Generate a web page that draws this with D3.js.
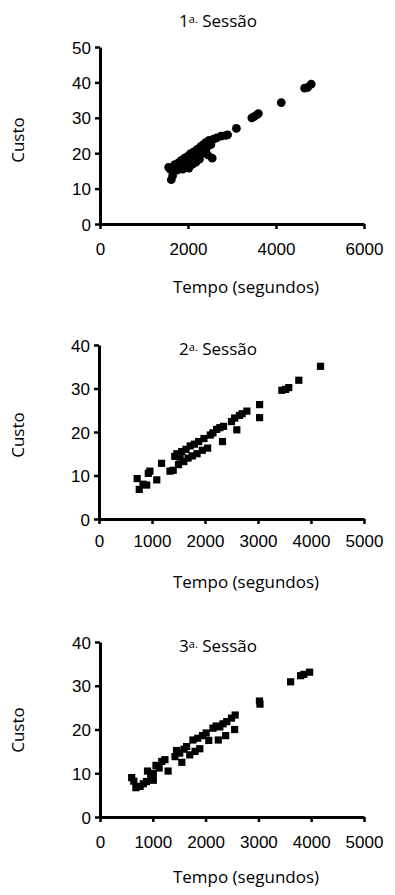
<!DOCTYPE html>
<html>
<head>
<meta charset="utf-8">
<script src="https://cdn.jsdelivr.net/npm/d3@7"></script>
<style>
  body { margin: 0; background: #fff; }
  svg { display: block; font-family: "Open Sans", "Noto Sans", sans-serif; }
  .axis path, .axis line { stroke: #000; }
  .axis text { font-size: 17px; fill: #000; }
</style>
</head>
<body>
<svg width="395" height="895"></svg>
<script>
// session titles and axis labels
const titles = ["1", "2", "3"];
const xLabel = "Tempo (segundos)";
const yLabel = "Custo";

// tick values per session
const xTicks1 = [0, 2000, 4000, 6000];
const yTicks1 = [0, 10, 20, 30, 40, 50];
const xTicks2 = [0, 1000, 2000, 3000, 4000, 5000];
const yTicks2 = [0, 10, 20, 30, 40];
const xTicks3 = [0, 1000, 2000, 3000, 4000, 5000];
const yTicks3 = [0, 10, 20, 30, 40];

// [tempo, custo]
const session1 = [
  [1560, 16.0], [1600, 15.4], [1620, 12.5], [1650, 13.6], [1700, 16.8], [1750, 15.2],
  [1780, 17.3], [1820, 16.0], [1850, 18.0], [1880, 15.5], [1900, 17.0], [1920, 18.6],
  [1950, 16.3], [1980, 19.0], [2000, 17.5], [2020, 15.8], [2050, 19.8], [2080, 18.0],
  [2100, 16.8], [2120, 20.3], [2150, 19.0], [2180, 17.5], [2200, 21.0], [2230, 19.6],
  [2260, 18.3], [2280, 21.8], [2300, 20.5], [2330, 22.3], [2360, 20.0], [2400, 23.0],
  [2420, 21.5], [2450, 19.5], [2480, 23.6], [2520, 22.4], [2550, 18.6], [2580, 24.0],
  [2650, 24.3], [2750, 24.8], [2850, 25.0], [2900, 25.2], [3100, 27.0], [3450, 30.0],
  [3500, 30.3], [3560, 30.8], [3600, 31.2], [4120, 34.3], [4650, 38.4], [4720, 38.6],
  [4800, 39.5]
];
const session2 = [
  [720, 9.3], [760, 6.8], [830, 8.0], [900, 7.8], [930, 10.5], [960, 11.0], [1090, 9.0],
  [1180, 12.8], [1340, 11.0], [1400, 11.2], [1430, 14.4], [1470, 15.0], [1500, 12.5],
  [1530, 14.2], [1560, 15.5], [1600, 13.2], [1640, 16.0], [1680, 14.0], [1720, 16.8],
  [1760, 14.5], [1800, 17.2], [1850, 15.0], [1880, 17.8], [1950, 15.8], [1980, 18.5],
  [2050, 16.3], [2100, 19.3], [2150, 19.8], [2220, 20.6], [2280, 21.0], [2330, 17.8],
  [2350, 21.3], [2500, 22.4], [2560, 23.2], [2600, 20.5], [2650, 23.8], [2700, 24.2],
  [2790, 24.8], [3030, 26.3], [3030, 23.3], [3450, 29.6], [3520, 29.8], [3580, 30.2],
  [3770, 31.9], [4180, 35.1]
];
const session3 = [
  [600, 9.0], [640, 8.2], [680, 6.7], [760, 7.0], [820, 7.6], [880, 8.1], [900, 10.5],
  [960, 9.2], [1010, 10.0], [1010, 8.4], [1060, 11.8], [1120, 11.2], [1170, 12.7],
  [1230, 13.1], [1290, 10.5], [1420, 13.8], [1450, 15.2], [1510, 14.6], [1550, 12.5],
  [1590, 15.5], [1640, 16.1], [1700, 14.2], [1760, 17.6], [1800, 15.0], [1850, 18.0],
  [1890, 15.6], [1940, 18.6], [2010, 19.2], [2060, 17.5], [2140, 20.3], [2200, 20.8],
  [2240, 17.6], [2270, 20.6], [2330, 21.3], [2380, 18.6], [2400, 21.8], [2490, 22.6],
  [2550, 20.0], [2560, 23.3], [3020, 26.5], [3030, 25.8], [3610, 30.9], [3800, 32.3],
  [3860, 32.6], [3970, 33.1]
];

const svg = d3.select("svg");

const panels = [
  { data: session1, xTicks: xTicks1, yTicks: yTicks1, x0: 100, x1: 364, yTop: 47, yBot: 224,
    titleY: 27, tickDy: 31, labelY: 293, labelX: 246, custoY: 140, shape: d3.symbolCircle, size: 60 },
  { data: session2, xTicks: xTicks2, yTicks: yTicks2, x0: 99, x1: 364, yTop: 345, yBot: 519,
    titleY: 355, tickDy: 28, labelY: 588, labelX: 246, custoY: 435, shape: d3.symbolSquare, size: 52 },
  { data: session3, xTicks: xTicks3, yTicks: yTicks3, x0: 100, x1: 364, yTop: 642, yBot: 817,
    titleY: 652, tickDy: 31, labelY: 883, labelX: 246, custoY: 730, shape: d3.symbolSquare, size: 52 }
];

panels.forEach((p, i) => {
  const x = d3.scaleLinear().domain(d3.extent(p.xTicks)).range([p.x0, p.x1]);
  const y = d3.scaleLinear().domain(d3.extent(p.yTicks)).range([p.yBot, p.yTop]);
  const g = svg.append("g");

  const xAxis = g.append("g")
    .attr("class", "axis")
    .attr("transform", "translate(0," + p.yBot + ")")
    .call(d3.axisBottom(x).tickValues(p.xTicks).tickFormat(d3.format("d"))
      .tickSize(5).tickSizeOuter(0).tickPadding(4));
  xAxis.select(".domain").attr("stroke-width", 3);
  xAxis.selectAll(".tick line").attr("stroke-width", 2.5);
  xAxis.selectAll(".tick text").attr("y", p.tickDy).attr("dy", null);

  const yAxis = g.append("g")
    .attr("class", "axis")
    .attr("transform", "translate(" + p.x0 + ",0)")
    .call(d3.axisLeft(y).tickValues(p.yTicks).tickFormat(d3.format("d"))
      .tickSize(5).tickSizeOuter(0).tickPadding(4));
  yAxis.select(".domain").attr("stroke-width", 3);
  yAxis.selectAll(".tick line").attr("stroke-width", 2.5);
  yAxis.selectAll(".tick text").attr("dy", "0.36em");

  g.selectAll(".pt")
    .data(p.data)
    .enter().append("path")
    .attr("class", "pt")
    .attr("transform", d => "translate(" + x(d[0]) + "," + y(d[1]) + ")")
    .attr("d", d3.symbol().type(p.shape).size(p.size))
    .attr("fill", "#000");

  const title = g.append("text")
    .attr("x", 218)
    .attr("y", p.titleY)
    .attr("text-anchor", "middle")
    .attr("font-size", 17);
  title.append("tspan").text(titles[i]);
  title.append("tspan").attr("font-size", 11).attr("dy", -4).text("a.");
  title.append("tspan").attr("dy", 4).text(" Sessão");

  g.append("text")
    .attr("x", p.labelX)
    .attr("y", p.labelY)
    .attr("text-anchor", "middle")
    .attr("font-size", 17)
    .text(xLabel);

  g.append("text")
    .attr("transform", "translate(24," + p.custoY + ") rotate(-90)")
    .attr("text-anchor", "middle")
    .attr("font-size", 17)
    .text(yLabel);
});
</script>
</body>
</html>
